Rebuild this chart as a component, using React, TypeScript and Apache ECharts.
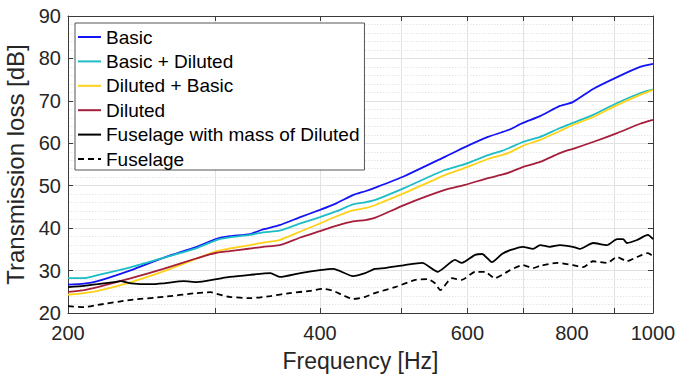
import React, { useEffect, useRef } from 'react';
import * as echarts from 'echarts';

// Frequencies (Hz) shared by the four panel curves
const FREQ = [200, 209, 217, 238, 260, 285, 301, 312, 330, 342, 358, 379, 400, 419, 438, 453, 465, 505, 564, 596, 635, 660, 675, 699, 733, 774, 802, 848, 906, 965, 1000];
const BASIC = [26.7, 26.9, 27.5, 30.1, 33.0, 35.6, 37.5, 38.1, 38.6, 39.7, 40.7, 42.6, 44.3, 45.9, 47.8, 48.7, 49.5, 52.3, 56.8, 59.1, 61.5, 62.6, 63.3, 64.8, 66.4, 68.8, 69.7, 72.8, 75.6, 78.0, 78.7];
const BASIC_DILUTED = [28.2, 28.2, 28.9, 30.8, 33.0, 35.3, 37.2, 37.8, 38.4, 39.0, 39.4, 41.1, 42.6, 44.0, 45.6, 46.1, 46.6, 49.5, 53.7, 55.1, 57.2, 58.2, 59.0, 60.3, 61.5, 63.6, 64.8, 66.7, 69.5, 71.8, 72.7];
const DILUTED_BASIC = [24.3, 24.7, 25.2, 27.3, 29.8, 32.8, 34.6, 35.2, 36.0, 36.6, 37.2, 39.2, 41.1, 42.8, 44.2, 44.7, 45.4, 48.3, 52.5, 54.2, 56.3, 57.2, 57.9, 59.4, 60.8, 62.9, 64.3, 66.2, 69.0, 71.4, 72.6];
const DILUTED = [25.0, 25.4, 26.1, 28.2, 30.4, 32.9, 34.2, 34.6, 35.2, 35.6, 36.0, 37.8, 39.3, 40.6, 41.6, 41.9, 42.4, 45.5, 49.0, 50.2, 51.8, 52.6, 53.2, 54.4, 55.6, 57.7, 58.7, 60.3, 62.4, 64.6, 65.5];

// Fuselage with mass of Diluted
const MASS_FREQ = [200, 209, 217, 227, 231, 238, 251, 260, 275, 285, 301, 312, 330, 349, 358, 379, 400, 415, 438, 453, 465, 478, 505, 530, 553, 580, 591, 613, 625, 642, 660, 675, 699, 719, 733, 753, 774, 802, 818, 848, 881, 906, 921, 931, 957, 986, 1000];
const MASS = [26.1, 26.4, 26.8, 27.3, 27.5, 27.0, 26.8, 27.0, 27.5, 27.3, 28.0, 28.5, 29.0, 29.4, 28.5, 29.4, 30.1, 30.4, 28.7, 29.4, 30.4, 30.6, 31.3, 31.8, 29.7, 32.5, 31.8, 33.7, 33.9, 32.0, 33.9, 34.8, 35.6, 35.1, 36.0, 35.6, 36.0, 35.6, 35.1, 36.5, 36.0, 37.4, 37.4, 36.5, 37.2, 38.4, 37.4];

// Fuselage
const FUS_FREQ = [200, 209, 217, 238, 260, 285, 296, 301, 312, 330, 349, 368, 389, 403, 415, 426, 438, 453, 465, 492, 520, 538, 549, 557, 575, 591, 613, 630, 647, 675, 699, 719, 733, 768, 802, 825, 848, 881, 906, 931, 957, 986, 1000];
const FUS = [21.6, 21.4, 21.9, 23.1, 23.8, 24.7, 24.9, 24.5, 23.8, 23.5, 24.0, 24.7, 25.2, 25.7, 25.2, 24.2, 23.3, 23.8, 24.7, 26.1, 27.8, 28.0, 27.0, 25.4, 28.2, 27.8, 29.7, 29.7, 28.2, 30.1, 31.3, 30.6, 31.1, 31.8, 31.3, 30.8, 32.2, 31.8, 33.2, 32.2, 33.2, 34.1, 33.4];

const X_TICKS = [200, 300, 400, 500, 600, 700, 800, 900, 1000];
const X_LABELS = [200, 400, 600, 800, 1000];
const Y_MIN = 20;
const Y_MAX = 90;
const Y_STEP = 10;

const NAMES = ['Basic', 'Basic + Diluted', 'Diluted + Basic', 'Diluted', 'Fuselage with mass of Diluted', 'Fuselage'];
const COLORS = ['#1414F5', '#1CBDC4', '#FFD21A', '#A51F3C', '#000000', '#000000'];

const lg = (f: number) => Math.log10(f);
const pairs = (fs: number[], vs: number[]) => fs.map((f, i) => [lg(f), vs[i]]);

export default function App() {
  const ref = useRef<HTMLDivElement>(null);
  useEffect(() => {
    const chart = echarts.init(ref.current!, null, { renderer: 'svg' });
    const font = '"Liberation Sans", Arial, sans-serif';
    const axisColor = '#3a3a3a';
    const textColor = '#262626';
    const gridColor = '#e2e2e2';

    const xBase: any = {
      type: 'value',
      min: lg(X_TICKS[0]),
      max: lg(X_TICKS[X_TICKS.length - 1]),
      axisLine: { show: true, onZero: false, lineStyle: { color: axisColor, width: 1 } },
      axisTick: { show: true, inside: true, length: 5, customValues: X_TICKS.map(lg), lineStyle: { color: axisColor } },
    };
    const yBase: any = {
      type: 'value',
      min: Y_MIN,
      max: Y_MAX,
      interval: Y_STEP,
      axisLine: { show: true, onZero: false, lineStyle: { color: axisColor, width: 1 } },
      axisTick: { show: true, inside: true, length: 5, lineStyle: { color: axisColor } },
    };

    const data = [
      pairs(FREQ, BASIC),
      pairs(FREQ, BASIC_DILUTED),
      pairs(FREQ, DILUTED_BASIC),
      pairs(FREQ, DILUTED),
      pairs(MASS_FREQ, MASS),
      pairs(FUS_FREQ, FUS),
    ];

    chart.setOption({
      animation: false,
      backgroundColor: '#ffffff',
      grid: { left: 68, right: 25, top: 16, bottom: 61, containLabel: false, outerBoundsMode: 'none' },
      legend: {
        orient: 'vertical',
        left: 75,
        top: 23,
        itemWidth: 23,
        itemHeight: 12,
        itemGap: 4.4,
        padding: [4, 5, 1, 2],
        backgroundColor: '#ffffff',
        borderColor: '#555555',
        borderWidth: 1,
        borderRadius: 0,
        itemStyle: { opacity: 0 },
        textStyle: { fontSize: 19, lineHeight: 20, color: '#000000', fontFamily: font },
        data: NAMES,
      },
      xAxis: [
        {
          ...xBase,
          position: 'bottom',
          name: 'Frequency [Hz]',
          nameLocation: 'middle',
          nameGap: 36,
          nameTextStyle: { fontSize: 23, color: textColor, fontFamily: font },
          axisLabel: {
            show: true,
            margin: 10,
            fontSize: 20,
            color: textColor,
            fontFamily: font,
            customValues: X_LABELS.map(lg),
            formatter: (v: number) => String(Math.round(Math.pow(10, v))),
          },
          splitLine: { show: true, lineStyle: { color: gridColor, width: 1 } },
        },
        {
          ...xBase,
          position: 'top',
          axisLabel: { show: false },
          splitLine: { show: false },
        },
      ],
      yAxis: [
        {
          ...yBase,
          position: 'left',
          name: 'Transmission loss [dB]',
          nameLocation: 'middle',
          nameGap: 27,
          nameTextStyle: { fontSize: 24, color: textColor, fontFamily: font },
          axisLabel: { show: true, margin: 7, fontSize: 20, color: textColor, fontFamily: font },
          splitLine: { show: true, lineStyle: { color: gridColor, width: 1 } },
          minorTick: { show: false, splitNumber: 5 },
          minorSplitLine: { show: true, lineStyle: { color: '#e6e6e6', width: 1, type: [1.5, 1.5] } },
        },
        {
          ...yBase,
          position: 'right',
          axisLabel: { show: false },
          splitLine: { show: false },
        },
      ],
      series: data.map((d, i) => ({
        name: NAMES[i],
        type: 'line',
        data: d,
        xAxisIndex: 0,
        yAxisIndex: 0,
        symbol: 'none',
        smooth: 0.2,
        color: COLORS[i],
        lineStyle: { color: COLORS[i], width: 1.8, type: i === 5 ? [6, 4] : 'solid' },
        z: 2 + i * 0.01,
      })),
    });
    return () => chart.dispose();
  }, []);
  return <div ref={ref} style={{ position: 'absolute', left: 0, top: 0, width: 678, height: 374 }} />;
}
